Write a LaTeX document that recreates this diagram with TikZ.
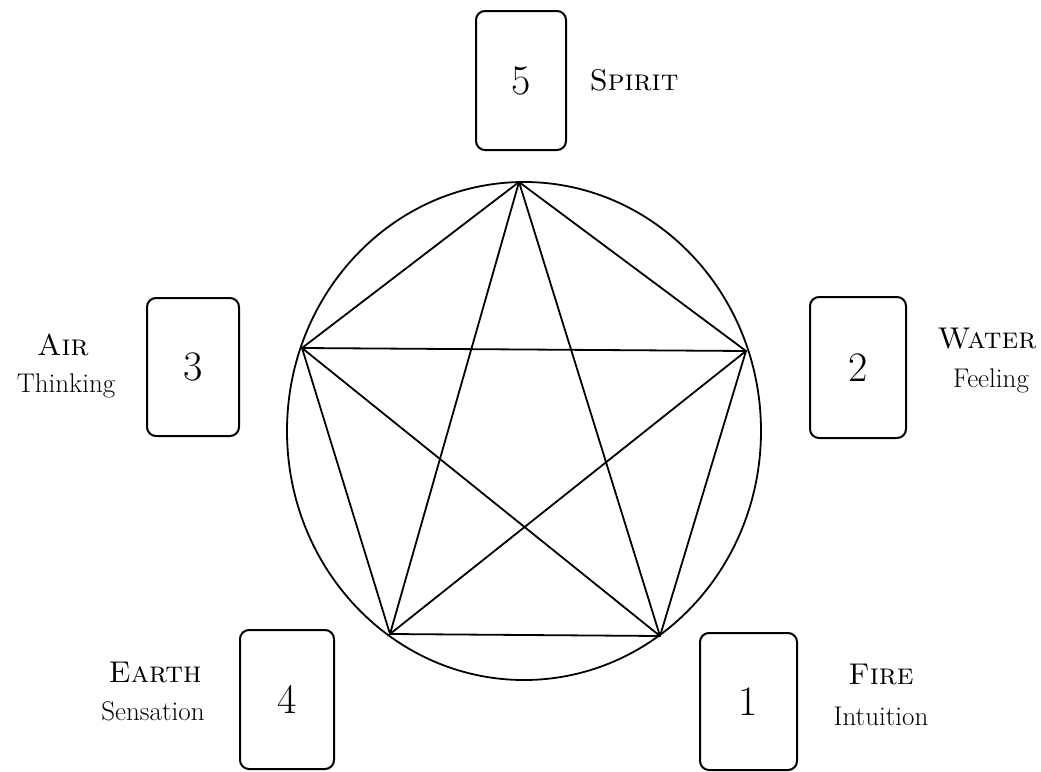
\documentclass[tikz,border=0pt]{standalone}
\begin{document}
\begin{tikzpicture}[x=1pt,y=-1pt,
  card/.style={draw, line width=2pt, rounded corners=9pt, inner sep=0pt,
    font=\fontsize{42}{46}\selectfont},
  headlab/.style={inner sep=0pt, anchor=base, font=\fontsize{30}{36}\selectfont\scshape},
  sublab/.style={inner sep=0pt, anchor=base, font=\fontsize{27}{32}\selectfont},
  figline/.style={line width=1.8pt, line join=round}]
\useasboundingbox (0,0) rectangle (1041,771);

% circle
\coordinate (c) at (524,431);
\draw[figline] (c) ellipse [x radius=237, y radius=249];

% pentagon vertices
\coordinate (vT) at (519,182);
\coordinate (vR) at (746,351);
\coordinate (vL) at (302,348);
\coordinate (vBL) at (390,634);
\coordinate (vBR) at (660,636);

% pentagon
\draw[figline] (vT) -- (vR) -- (vBR) -- (vBL) -- (vL) -- cycle;
% star
\draw[figline] (vT) -- (vBL) -- (vR) -- (vL) -- (vBR) -- cycle;

% cards
\node[card, minimum width=90pt, minimum height=139pt] (c5) at (521,80.5) {5};
\node[card, minimum width=92pt, minimum height=138pt] (c3) at (193,367) {3};
\node[card, minimum width=96pt, minimum height=141pt] (c2) at (858,367.5) {2};
\node[card, minimum width=94pt, minimum height=139pt] (c4) at (287,699.5) {4};
\node[card, minimum width=97pt, minimum height=137pt] (c1) at (748.5,701.5) {1};

% labels
\node[headlab] (spirit) at (634,90) {Spirit};
\node[headlab] (air) at (63,355) {Air};
\node[sublab] (thinking) at (66,392) {Thinking};
\node[headlab] (water) at (987,348) {Water};
\node[sublab] (feeling) at (991,387) {Feeling};
\node[headlab] (earth) at (155,682) {Earth};
\node[sublab] (sensation) at (153,720) {Sensation};
\node[headlab] (fire) at (881,684) {Fire};
\node[sublab] (intuition) at (881,725) {Intuition};
\end{tikzpicture}
\end{document}
